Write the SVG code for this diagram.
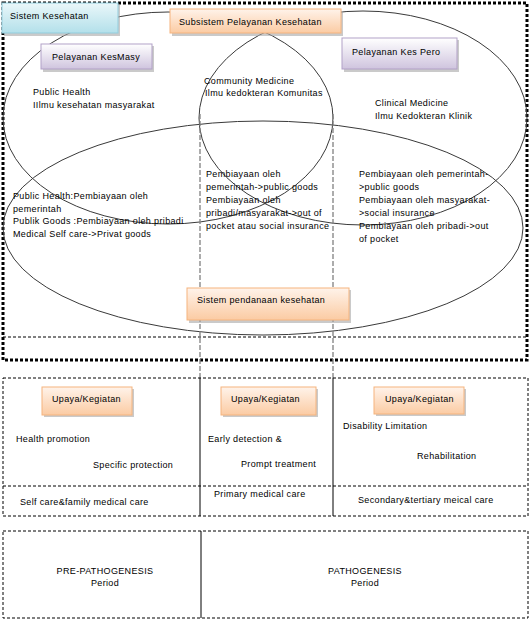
<svg xmlns="http://www.w3.org/2000/svg" width="531" height="621" viewBox="0 0 531 621">
<defs>
<linearGradient id="gBlue" x1="0" y1="0" x2="0" y2="1"><stop offset="0" stop-color="#eaf7fa"/><stop offset="1" stop-color="#b3e0ea"/></linearGradient>
<linearGradient id="gOrange" x1="0" y1="0" x2="0" y2="1"><stop offset="0" stop-color="#fff3ea"/><stop offset="1" stop-color="#fbcba3"/></linearGradient>
<linearGradient id="gPurple" x1="0" y1="0" x2="0" y2="1"><stop offset="0" stop-color="#ffffff"/><stop offset="1" stop-color="#cfc4de"/></linearGradient>
</defs>
<style>
text{font-family:"Liberation Sans",Arial,sans-serif;font-size:9px;fill:#000;letter-spacing:0.35px}
.ell{fill:none;stroke:#3a3a3a;stroke-width:1}
.gdash{fill:none;stroke:#808080;stroke-width:1.3;stroke-dasharray:5 2}
.dash{fill:none;stroke:#000;stroke-width:1;stroke-dasharray:3 2}
.solid{fill:none;stroke:#000;stroke-width:1}
.dots{fill:none;stroke:#000;stroke-width:3;stroke-dasharray:3 2}
.shadow{fill:#a6a6a6;opacity:0.6}
.blue{fill:url(#gBlue);stroke:#93cddd;stroke-width:1}
.orange{fill:url(#gOrange);stroke:#f5b47e;stroke-width:1}
.purple{fill:url(#gPurple);stroke:#b2a1c7;stroke-width:1}
.mid{text-anchor:middle}
</style>
<rect width="531" height="621" fill="#fff"/>

<g id="frame">
<rect class="dots" x="3" y="3" width="524" height="357"/>
<line class="dash" x1="3" y1="337" x2="527" y2="337"/>
</g>

<g id="ellipses">
<ellipse class="ell" cx="168" cy="118" rx="165" ry="106"/>
<ellipse class="ell" cx="363" cy="118" rx="164" ry="107"/>
<ellipse class="ell" cx="263" cy="228" rx="260" ry="107"/>
</g>

<g id="connectors">
<line class="gdash" x1="200" y1="114" x2="200" y2="378"/>
<line class="gdash" x1="333" y1="114" x2="333" y2="378"/>
</g>

<g id="node-sistem-kesehatan">
<rect class="shadow" x="4" y="5" width="116" height="31"/>
<rect class="blue" x="2" y="3" width="116" height="30"/>
<text x="10" y="19">Sistem Kesehatan</text>
</g>

<g id="node-subsistem">
<rect class="shadow" x="172" y="11" width="171" height="25"/>
<rect class="orange" x="170" y="9" width="171" height="24"/>
<text x="179" y="25">Subsistem Pelayanan Kesehatan</text>
</g>

<g id="node-kesmasy">
<rect class="shadow" x="43" y="46" width="111" height="26"/>
<rect class="purple" x="41" y="44" width="111" height="25"/>
<text x="52" y="60">Pelayanan KesMasy</text>
</g>

<g id="node-kespero">
<rect class="shadow" x="344" y="40" width="115" height="32"/>
<rect class="purple" x="342" y="38" width="115" height="31"/>
<text x="352" y="55">Pelayanan Kes Pero</text>
</g>

<g id="node-public-health">
<text x="33" y="95">Public Health</text>
<text x="33" y="108">IIlmu kesehatan masyarakat</text>
</g>

<g id="node-community">
<text x="204" y="84">Community Medicine</text>
<text x="205" y="96">Ilmu kedokteran Komunitas</text>
</g>

<g id="node-clinical">
<text x="375" y="106">Clinical Medicine</text>
<text x="375" y="119">Ilmu Kedokteran Klinik</text>
</g>

<g id="node-financing-left">
<text x="13" y="199">Public Health:Pembiayaan oleh</text>
<text x="13" y="212">pemerintah</text>
<text x="13" y="224">Publik Goods :Pembiayaan oleh pribadi</text>
<text x="13" y="237">Medical Self care-&gt;Privat goods</text>
</g>

<g id="node-financing-mid">
<text x="206" y="177">Pembiayaan oleh</text>
<text x="206" y="190">pemerintah-&gt;public goods</text>
<text x="206" y="203">Pembiayaan oleh</text>
<text x="206" y="216">pribadi/masyarakat-&gt;out of</text>
<text x="206" y="229">pocket atau social insurance</text>
</g>

<g id="node-financing-right">
<text x="359" y="177">Pembiayaan oleh pemerintah-</text>
<text x="359" y="190">&gt;public goods</text>
<text x="359" y="203">Pembiayaan oleh masyarakat-</text>
<text x="359" y="216">&gt;social insurance</text>
<text x="359" y="229">Pembiayaan oleh pribadi-&gt;out</text>
<text x="359" y="242">of pocket</text>
</g>

<g id="node-pendanaan">
<rect class="shadow" x="189" y="290" width="162" height="33"/>
<rect class="orange" x="187" y="288" width="162" height="32"/>
<text x="197" y="303">Sistem pendanaan kesehatan</text>
</g>

<g id="activities">
<rect class="dash" x="3" y="378" width="525" height="138"/>
<line class="dash" x1="3" y1="486" x2="528" y2="486"/>
<line class="solid" x1="200" y1="378" x2="200" y2="516"/>
<line class="solid" x1="333" y1="378" x2="333" y2="516"/>
</g>

<g id="node-upaya-1">
<rect class="shadow" x="44" y="389" width="90" height="28"/>
<rect class="orange" x="42" y="387" width="90" height="28"/>
<text x="52" y="402">Upaya/Kegiatan</text>
</g>
<g id="node-upaya-2">
<rect class="shadow" x="223" y="389" width="95" height="28"/>
<rect class="orange" x="221" y="387" width="95" height="28"/>
<text x="231" y="402">Upaya/Kegiatan</text>
</g>
<g id="node-upaya-3">
<rect class="shadow" x="376" y="389" width="90" height="27"/>
<rect class="orange" x="374" y="387" width="90" height="27"/>
<text x="385" y="402">Upaya/Kegiatan</text>
</g>

<g id="node-col1">
<text x="16" y="442">Health promotion</text>
<text x="93" y="468">Specific protection</text>
<text x="20" y="505">Self care&amp;family medical care</text>
</g>
<g id="node-col2">
<text x="208" y="442">Early detection &amp;</text>
<text x="241" y="467">Prompt treatment</text>
<text x="214" y="497">Primary medical care</text>
</g>
<g id="node-col3">
<text x="343" y="429">Disability Limitation</text>
<text x="417" y="459">Rehabilitation</text>
<text x="358" y="503">Secondary&amp;tertiary meical care</text>
</g>

<g id="periods">
<rect class="dash" x="3" y="531" width="525" height="87"/>
<line class="solid" x1="201" y1="531" x2="201" y2="618"/>
<text class="mid" x="105" y="574">PRE-PATHOGENESIS</text>
<text class="mid" x="105" y="586">Period</text>
<text class="mid" x="365" y="574">PATHOGENESIS</text>
<text class="mid" x="365" y="586">Period</text>
</g>
</svg>
